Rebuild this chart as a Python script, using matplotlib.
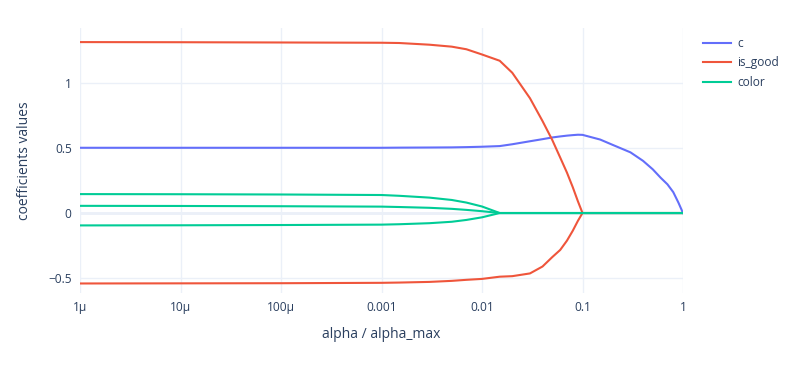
import matplotlib
matplotlib.use("Agg")
from matplotlib import pyplot as plt

# alpha / alpha_max grid shared by all coefficient paths
alpha = [1e-6, 1e-5, 1e-4, 1e-3, 0.0015, 0.003, 0.005, 0.007, 0.01, 0.015,
         0.02, 0.03, 0.04, 0.05, 0.06, 0.07, 0.08, 0.09, 0.1, 0.15,
         0.2, 0.3, 0.4, 0.5, 0.6, 0.7, 0.8, 0.9, 1.0]

coef_c = [0.5, 0.5, 0.5, 0.5, 0.501, 0.502, 0.503, 0.505, 0.508, 0.513,
          0.527, 0.55, 0.566, 0.579, 0.587, 0.593, 0.597, 0.6, 0.599, 0.563,
          0.522, 0.465, 0.40, 0.335, 0.27, 0.22, 0.16, 0.08, 0.0]

zeros_tail = [0.0] * 19
is_good_hi = [1.31, 1.309, 1.307, 1.305, 1.303, 1.29, 1.275, 1.255, 1.215, 1.167,
              1.075, 0.88, 0.705, 0.56, 0.425, 0.31, 0.198, 0.09, 0.0] + [0.0] * 10
is_good_lo = [-0.54, -0.539, -0.538, -0.535, -0.533, -0.528, -0.52, -0.512, -0.505, -0.488,
              -0.484, -0.463, -0.41, -0.338, -0.283, -0.212, -0.136, -0.06, 0.0] + [0.0] * 10

color_hi = [0.145, 0.144, 0.142, 0.138, 0.132, 0.118, 0.10, 0.08, 0.05, 0.0] + zeros_tail
color_mid = [0.055, 0.054, 0.052, 0.049, 0.046, 0.04, 0.032, 0.024, 0.014, 0.0] + zeros_tail
color_lo = [-0.095, -0.094, -0.092, -0.089, -0.086, -0.078, -0.067, -0.053, -0.033, 0.0] + zeros_tail

x_ticks = [1e-6, 1e-5, 1e-4, 1e-3, 1e-2, 1e-1, 1]
x_tick_labels = ["1μ", "10μ", "100μ", "0.001", "0.01", "0.1", "1"]
y_ticks = [-0.5, 0, 0.5, 1]
y_tick_labels = ["−0.5", "0", "0.5", "1"]

blue, red, green = "#636efa", "#EF553B", "#00cc96"
grid_col = "#ebf0f8"
text_col = "#2a3f5f"

plt.rcParams["font.family"] = ["Open Sans", "DejaVu Sans"]

W, H = 796, 378
fig = plt.figure(figsize=(W / 100, H / 100), dpi=100)
left, right, top, bottom = 80, 683, 28, 293
ax = fig.add_axes([left / W, 1 - bottom / H, (right - left) / W, (bottom - top) / H])

lw = 1.5
ax.plot(alpha, coef_c, color=blue, lw=lw, label="c", zorder=3)
ax.plot(alpha, is_good_hi, color=red, lw=lw, label="is_good", zorder=3)
ax.plot(alpha, is_good_lo, color=red, lw=lw, zorder=3)
ax.plot(alpha, color_hi, color=green, lw=lw, label="color", zorder=3)
ax.plot(alpha, color_mid, color=green, lw=lw, zorder=3)
ax.plot(alpha, color_lo, color=green, lw=lw, zorder=3)

ax.set_xscale("log")
ax.set_xlim(1e-6, 1)
ax.set_ylim(-0.613, 1.418)
ax.set_xticks(x_ticks)
ax.set_xticklabels(x_tick_labels)
ax.minorticks_off()
ax.set_yticks(y_ticks)
ax.set_yticklabels(y_tick_labels)
ax.tick_params(length=0, labelsize=8.6, colors=text_col, pad=6)
ax.tick_params(axis="x", pad=6)
ax.grid(True, color=grid_col, lw=1, zorder=0)
ax.axhline(0, color=grid_col, lw=2, zorder=1)
for s in ax.spines.values():
    s.set_visible(False)

ax.set_xlabel("alpha / alpha_max", fontsize=10, color=text_col, labelpad=9)
ax.set_ylabel("coefficients values", fontsize=10, color=text_col, labelpad=12)

fig.legend(loc="upper left", bbox_to_anchor=(698 / W, 1 - 32 / H), frameon=False,
           fontsize=8.6, handlelength=2.4, handletextpad=0.5, labelspacing=0.55,
           labelcolor=text_col, borderaxespad=0)

fig.savefig("out.png", dpi=100)
